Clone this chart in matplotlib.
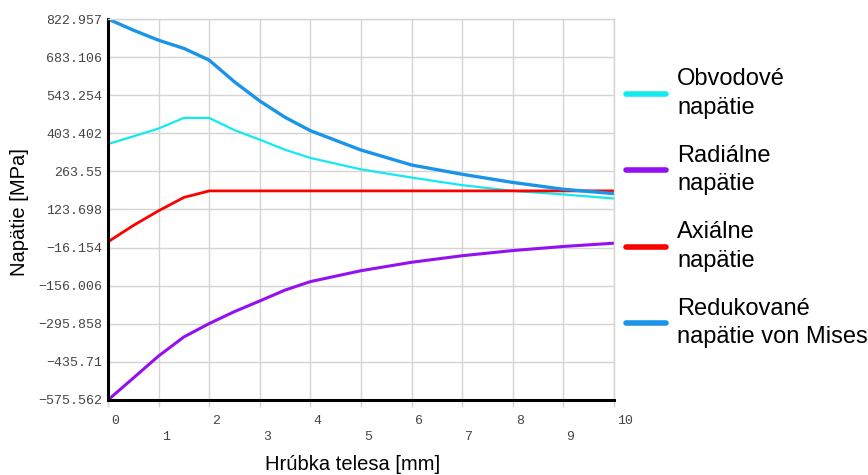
import matplotlib
matplotlib.use("Agg")
import matplotlib.pyplot as plt
from matplotlib.transforms import ScaledTranslation

# thickness in mm
hrubka = [0, 0.5, 1, 1.5, 2, 2.5, 3, 3.5, 4, 5, 6, 7, 8, 9, 10]

obvodove = [364, 392, 421, 460, 460, 415, 380, 343, 313, 271, 241, 213, 192, 179, 164]
radialne = [-575.562, -495, -414, -344, -295, -251, -212, -172, -141, -101, -70, -46, -27, -12, 0]
axialne = [5, 65, 119, 168, 192, 192, 192, 192, 192, 192, 192, 192, 192, 192, 192]
mises = [822.957, 782, 745, 715, 672, 592, 522, 462, 413, 342, 287, 253, 223, 198, 182]

yticks = [822.957, 683.106, 543.254, 403.402, 263.55, 123.698,
          -16.154, -156.006, -295.858, -435.71, -575.562]
ytick_labels = ['822.957', '683.106', '543.254', '403.402', '263.55', '123.698',
                '\u221216.154', '\u2212156.006', '\u2212295.858', '\u2212435.71', '\u2212575.562']
xticks = list(range(0, 11))

labels = ['Obvodové\nnapätie', 'Radiálne\nnapätie', 'Axiálne\nnapätie',
          'Redukované\nnapätie von Mises']
colors = ['#12eaf0', '#9410f0', '#fa0000', '#1a94e8']

W, H = 868, 475
fig = plt.figure(figsize=(W / 100, H / 100), dpi=100)
ax = fig.add_axes([108 / W, (H - 400) / H, (614 - 108) / W, (400 - 19) / H])

ax.plot(hrubka, obvodove, color=colors[0], lw=1.6, label=labels[0])
ax.plot(hrubka, radialne, color=colors[1], lw=2.2, label=labels[1])
ax.plot(hrubka, axialne, color=colors[2], lw=2.0, label=labels[2])
ax.plot(hrubka, mises, color=colors[3], lw=2.4, label=labels[3])

ax.set_xlim(0, 10)
ax.set_ylim(yticks[-1], yticks[0])

ax.set_yticks(yticks)
ax.set_yticklabels(ytick_labels, family='Liberation Mono', fontsize=9.5, color='#444444')
ax.set_xticks(xticks)
ax.set_xticklabels([str(v) for v in xticks], family='Liberation Mono', fontsize=9.5,
                   color='#444444', ha='left')

ax.grid(True, color='#d4d4d4', lw=1)
ax.tick_params(axis='y', length=0, pad=4)
ax.tick_params(axis='x', length=5, color='#d4d4d4', width=1)
offset = ScaledTranslation(3 / 100, 0, fig.dpi_scale_trans)
for i, t in enumerate(ax.xaxis.get_major_ticks()):
    t.set_pad(5.5 if i % 2 == 0 else 17)
    t.label1.set_transform(t.label1.get_transform() + offset)

for side in ['top', 'right']:
    ax.spines[side].set_color('#d4d4d4')
    ax.spines[side].set_linewidth(1)
for side in ['left', 'bottom']:
    ax.spines[side].set_color('black')
    ax.spines[side].set_linewidth(2.2)
ax.set_axisbelow(True)

fig.text(353 / W, 1 - 465 / H, 'Hrúbka telesa [mm]', family='Liberation Sans',
         fontsize=14.5, ha='center', va='center')
fig.text(20 / W, 1 - 212 / H, 'Napätie [MPa]', family='Liberation Sans',
         fontsize=14.5, ha='center', va='center', rotation=90)

leg = ax.legend(loc='upper left', bbox_to_anchor=(626 / W, 1 - 68 / H),
                bbox_transform=fig.transFigure, frameon=False,
                prop={'family': 'Liberation Sans', 'size': 17},
                handlelength=1.7, handletextpad=0.47, labelspacing=1.1,
                borderpad=0, borderaxespad=0)
for txt in leg.get_texts():
    txt.set_linespacing(1.39)
for line in leg.get_lines():
    line.set_linewidth(4)
    line.set_solid_capstyle('round')

fig.savefig('out.png', dpi=100)
